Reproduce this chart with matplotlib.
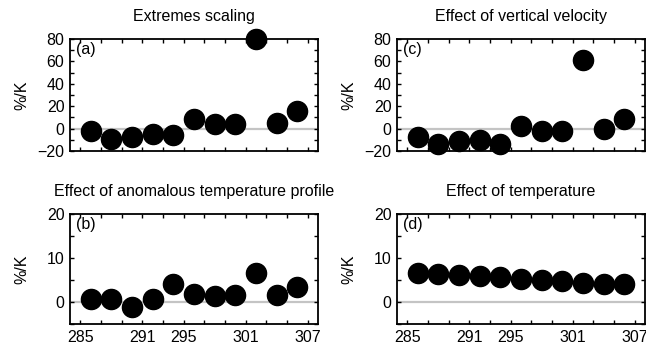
import matplotlib.pyplot as plt
from matplotlib.ticker import MultipleLocator, FixedFormatter, FixedLocator
import numpy as np

plt.rcParams['font.family'] = ['Liberation Sans', 'DejaVu Sans']

# temperaturas (K)
temps = [286, 288, 290, 292, 294, 296, 298, 300, 302, 304, 306]

# valores de cada panel (%/K)
extremos = [-2.4, -9.0, -7.5, -5.1, -5.4, 8.4, 3.9, 4.5, 80.0, 5.4, 15.5]
perfil_anom = [0.6, 0.6, -1.1, 0.6, 4.1, 1.9, 1.3, 1.6, 6.7, 1.7, 3.3]
vel_vertical = [-7.5, -14.0, -11.3, -10.4, -13.4, 2.1, -2.1, -2.1, 60.9, -0.6, 9.0]
efecto_temp = [6.7, 6.3, 6.1, 5.8, 5.6, 5.3, 5.0, 4.7, 4.4, 4.1, 4.1]

x_ticks = list(range(285, 308, 2))
x_etiquetas = ['285', '', '', '291', '', '295', '', '', '301', '', '', '307']

fig = plt.figure(figsize=(6.46, 3.49), dpi=100)

paneles = [
    # (posicion, datos, titulo, letra, ylim, mayor, menor, etiquetas x)
    ([0.1084, 0.5673, 0.3839, 0.3209], extremos, 'Extremes scaling', '(a)', (-20, 80), 20, 10, False),
    ([0.1084, 0.0716, 0.3839, 0.3152], perfil_anom, 'Effect of anomalous temperature profile', '(b)', (-5, 20), 10, 5, True),
    ([0.6146, 0.5673, 0.3839, 0.3209], vel_vertical, 'Effect of vertical velocity', '(c)', (-20, 80), 20, 10, False),
    ([0.6146, 0.0716, 0.3839, 0.3152], efecto_temp, 'Effect of temperature', '(d)', (-5, 20), 10, 5, True),
]

fs = 11.5

for pos, datos, titulo, letra, ylim, mayor, menor, con_x in paneles:
    ax = fig.add_axes(pos)
    ax.axhline(0, color='#c4c4c4', lw=1.6, zorder=1)
    ax.plot(temps, datos, 'o', color='black', ms=14.5, zorder=3, clip_on=False)
    ax.set_xlim(284, 308)
    ax.set_ylim(*ylim)

    ax.xaxis.set_major_locator(FixedLocator(x_ticks))
    if con_x:
        ax.xaxis.set_major_formatter(FixedFormatter(x_etiquetas))
    else:
        ax.set_xticklabels([])
    ax.yaxis.set_major_locator(MultipleLocator(mayor))
    ax.yaxis.set_minor_locator(MultipleLocator(menor))

    ax.tick_params(which='both', direction='in', top=True, right=True,
                   labelsize=fs, width=1.0, pad=4)
    ax.tick_params(which='major', length=3)
    ax.tick_params(which='minor', length=3)
    for sp in ax.spines.values():
        sp.set_linewidth(1.3)

    ax.set_title(titulo, fontsize=fs, pad=13)
    ax.set_ylabel('%/K', fontsize=fs)
    ax.yaxis.set_label_coords(-0.165, 0.5)
    ax.text(0.025, 0.97, letra, transform=ax.transAxes, fontsize=fs,
            ha='left', va='top')

plt.savefig('out.png', dpi=100)
